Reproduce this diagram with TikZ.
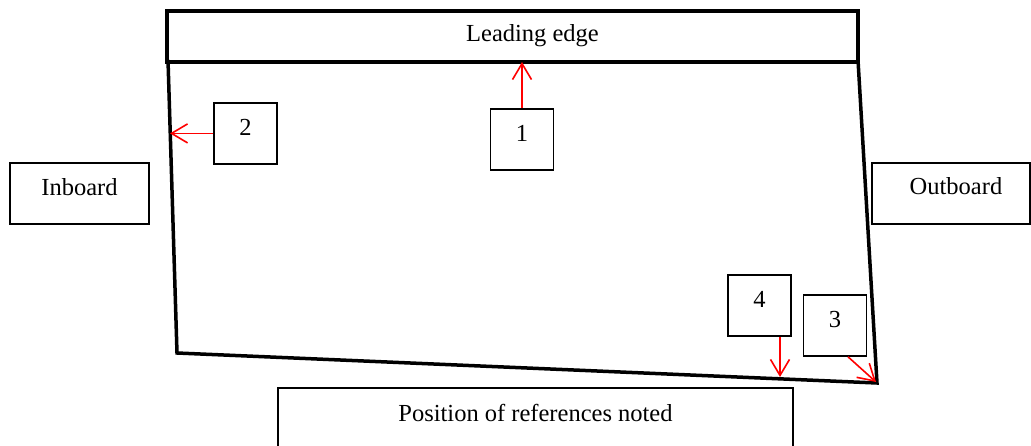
\documentclass[tikz,border=0pt]{standalone}
\usepackage{fontspec}
\setmainfont{Liberation Serif}
\usetikzlibrary{arrows.meta}
\begin{document}
\begin{tikzpicture}[x=1pt,y=-1pt,
  every node/.style={font=\fontsize{24.5}{29}\selectfont},
  labelbox/.style={draw=black, line width=1.8pt, rectangle, inner xsep=0pt,
    inner ysep=0pt, text height=33pt, text depth=28pt, anchor=north},
  numbox/.style={labelbox, minimum width=63pt},
  edgebox/.style={labelbox, line width=4.5pt, text depth=18pt},
  caption/.style={anchor=base, inner sep=0pt},
  outline/.style={line width=3.5pt, line join=miter},
  pointer/.style={draw=red, line width=1.6pt,
    -{Straight Barb[length=16pt,width=19pt,line width=1.6pt]}}]
\useasboundingbox (0,0) rectangle (1031,446);
\clip (0,0) rectangle (1031,446);

% wing section outline below the leading edge
\coordinate (tl) at (168,60);
\coordinate (bl) at (177,353);
\coordinate (br) at (877,383);
\coordinate (tr) at (858,60);
\draw[outline] (tl) -- (bl) -- (br) -- (tr);

% labelled boxes
\node[edgebox, minimum width=691pt] (lead) at (512.5,9) {};
\node[caption] (leadtext) at (532.5,42) {Leading edge};
\node[labelbox, minimum width=139pt] (inboard) at (79.5,162) {Inboard};
\node[labelbox, minimum width=158pt] (outboard) at (951,162) {};
\node[caption] (outtext) at (956,195) {Outboard};
\node[labelbox, minimum width=515pt, text height=34pt, text depth=60pt] (refs) at (535.5,387) {Position of references noted};

% numbered reference points
\node[numbox] (n2) at (245.5,102) {2};
\node[numbox] (n1) at (522,108) {1};
\node[numbox] (n4) at (759.5,274) {4};
\node[numbox] (n3) at (835,294) {3};

% arrow targets on the outline
\coordinate (t1) at (522,62);
\coordinate (t2) at (170,132);
\coordinate (t4) at (780,377);
\coordinate (t3) at (876,382);
\coordinate (s3) at (848,356);

\draw[pointer] (n1.north) -- (n1.north |- t1);
\draw[pointer] (n2.west) -- (n2.west -| t2);
\draw[pointer] (n4.south -| t4) -- (t4);
\draw[pointer] (n3.south -| s3) -- (t3);
\end{tikzpicture}
\end{document}
